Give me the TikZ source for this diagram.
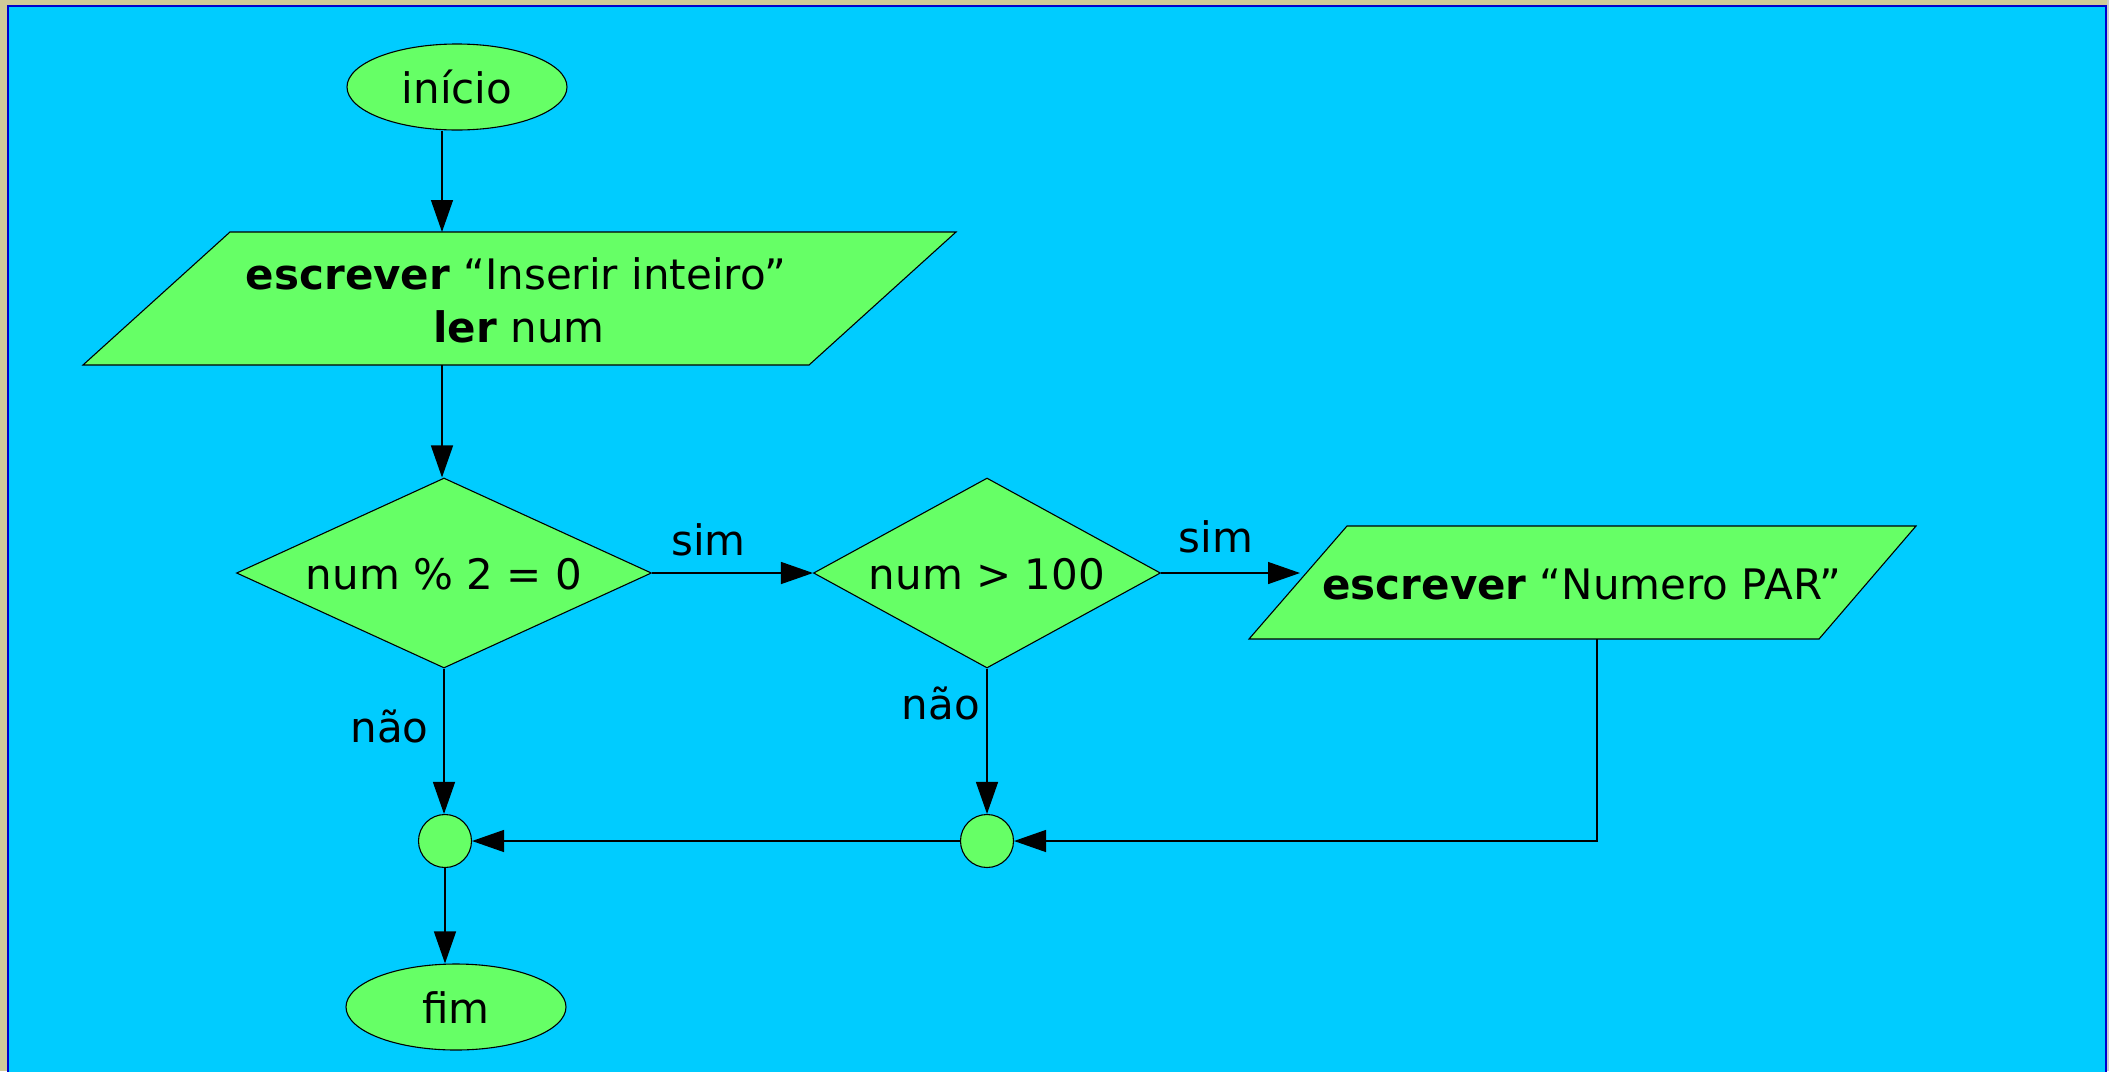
\documentclass[tikz,border=0pt]{standalone}
\usepackage{fontspec}
\setmainfont{DejaVu Sans}
\usetikzlibrary{shapes.geometric,arrows.meta}
\definecolor{bgbeige}{HTML}{D0CA98}
\definecolor{frameblue}{HTML}{0000CC}
\definecolor{skycyan}{HTML}{00CCFF}
\definecolor{boxgreen}{HTML}{66FF66}
\tikzset{
  shapebox/.style={draw=black, fill=boxgreen, line width=1.1pt},
  txt/.style={font=\fontsize{42}{52}\selectfont, inner sep=0pt, text height=33pt, text depth=0pt},
  termnode/.style={shapebox, ellipse, inner sep=0pt, minimum width=220pt, minimum height=86pt, txt},
  decnode/.style={shapebox, diamond, inner sep=0pt, minimum height=190pt, txt},
  joinnode/.style={shapebox, circle, inner sep=0pt, minimum size=53pt},
  lbl/.style={font=\fontsize{42}{52}\selectfont, inner sep=0pt, anchor=base},
  arr/.style={draw=black, line width=1.4pt, -{Triangle[length=32pt,width=22pt]}},
  conn/.style={draw=black, line width=1.4pt}
}
\begin{document}
\begin{tikzpicture}[x=1pt,y=-1pt]
\useasboundingbox (0,0) rectangle (2109,1071);
\fill[bgbeige] (0,0) rectangle (2109,1071);
\fill[gray!40] (2107,0) rectangle (2109,1071);
\begin{scope}
\clip (0,0) rectangle (2109,1071);
\draw[frameblue, line width=2.5pt, fill=skycyan] (8,6) rectangle (2106,1090);
\end{scope}

% terminals
\node[termnode] (inicio) at (457,87) {início};
\node[termnode] (fim) at (456,1007) {fim};

% input/output parallelogram 1
\path[shapebox] (230,232) -- (956,232) -- (809,365) -- (83,365) -- cycle;
\node[txt] (p1a) at (516,272.5) {\textbf{escrever} “Inserir inteiro”};
\node[txt] (p1b) at (519,325.5) {\textbf{ler} num};
\coordinate (p1in) at (442,232);
\coordinate (p1out) at (442,365);

% decisions
\node[decnode, minimum width=415pt, aspect=2.18] (d1) at (444,573) {num \% 2 = 0};
\node[decnode, minimum width=347pt, aspect=1.83] (d2) at (987,573) {num > 100};

% output parallelogram 2
\path[shapebox] (1347,526) -- (1916,526) -- (1819,639) -- (1249,639) -- cycle;
\node[txt] (p2) at (1582,582.5) {\textbf{escrever} “Numero PAR”};
\coordinate (p2in) at (1300,573);
\coordinate (p2out) at (1597,639);

% joins
\node[joinnode] (c1) at (445,841) {};
\node[joinnode] (c2) at (987,841) {};

% labels
\node[lbl] (sim1) at (708.5,555) {sim};
\node[lbl] (sim2) at (1216,552) {sim};
\node[lbl] (nao1) at (389.5,742) {não};
\node[lbl] (nao2) at (941,719) {não};

% connectors
\draw[arr] (inicio.south -| p1in) -- (p1in);
\draw[arr] (p1out) -- (p1out |- d1.north);
\draw[arr] (d1.east) -- (d2.west);
\draw[arr] (d2.east) -- (p2in);
\draw[arr] (d1.south) -- (d1.south |- c1.north);
\draw[arr] (d2.south) -- (c2.north);
\draw[arr] (p2out) |- (c2.east);
\draw[arr] (c2.west) -- (c1.east);
\draw[arr] (c1.south) -- (c1.south |- fim.north);
\end{tikzpicture}
\end{document}
